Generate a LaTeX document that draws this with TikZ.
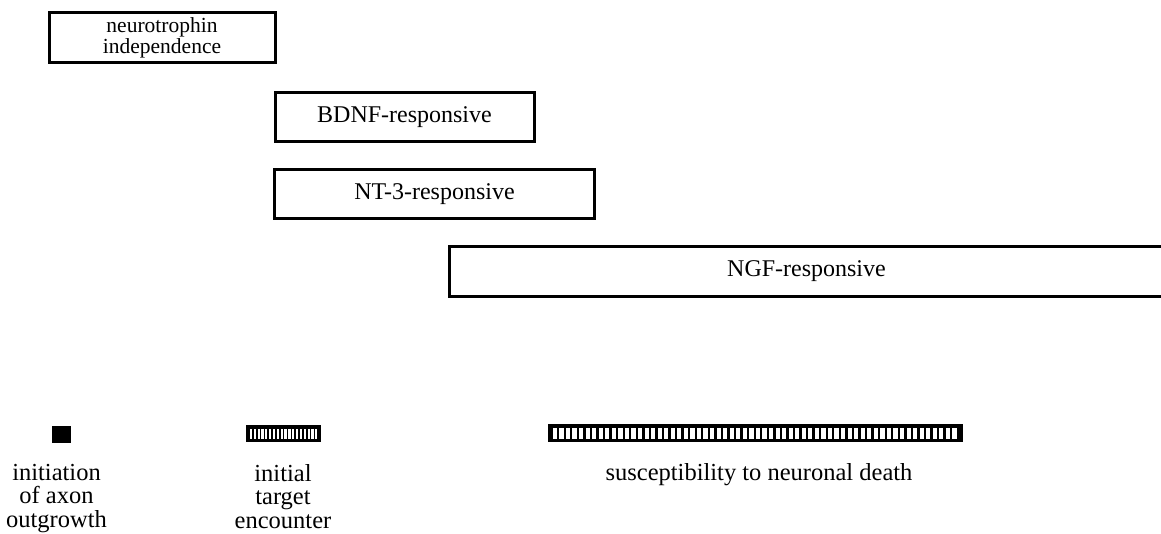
\documentclass[tikz,border=0pt]{standalone}
\usepackage{fontspec}
\setmainfont{Liberation Serif}
\usetikzlibrary{calc}
\begin{document}
\begin{tikzpicture}[x=1pt,y=-1pt,
  phase/.style={draw=black,line width=3pt,inner sep=0pt,font=\fontsize{24}{21}\selectfont,align=center},
  lbl/.style={inner sep=0pt,font=\fontsize{24.5}{23.5}\selectfont,align=center,anchor=north},
  bar/.style={fill=black,draw=none}]
\useasboundingbox (0,0) rectangle (1161,534);
% phase boxes
\node[phase,minimum width=226pt,minimum height=50pt,font=\fontsize{21.5}{21}\selectfont] (ind) at (162,37.5) {neurotrophin\\independence};
\node[phase,minimum width=259pt,minimum height=49pt] (bdnf) at (404.5,117) {BDNF-responsive};
\node[phase,minimum width=320pt,minimum height=49pt] (nt3) at (434.5,194.5) {NT-3-responsive};
\node[inner sep=0pt,minimum width=711pt,minimum height=50pt] (ngf) at (805.5,271.5) {};
\node[inner sep=0pt,font=\fontsize{24}{21}\selectfont] (ngft) at (806.5,271.5) {NGF-responsive};
\draw[line width=3pt] (ngf.north east) -- (ngf.north west) -- (ngf.south west) -- (ngf.south east);
% markers
\node[bar,minimum width=19pt,minimum height=17pt,inner sep=0pt] (init) at (61.5,434) {};
\node[bar,minimum width=75pt,minimum height=17pt,inner sep=0pt] (tgt) at (283.5,433.5) {};
\foreach \i in {0,...,17} {
  \fill[white] ($(tgt.west)+(4+\i*3.85,-5)$) rectangle ++(2.2,10);
}
\node[bar,minimum width=415pt,minimum height=18pt,inner sep=0pt] (death) at (755.5,433) {};
\foreach \i in {0,...,61} {
  \fill[white] ($(death.west)+(5+\i*6.55,-5.5)$) rectangle ++(4.2,11);
}
% labels
\node[lbl] (l1) at (56.5,464) {initiation\\of axon\\outgrowth};
\node[lbl] (l2) at (283,464) {initial\\target\\encounter};
\node[lbl] (l3) at (759,463) {susceptibility to neuronal death};
\end{tikzpicture}
\end{document}
